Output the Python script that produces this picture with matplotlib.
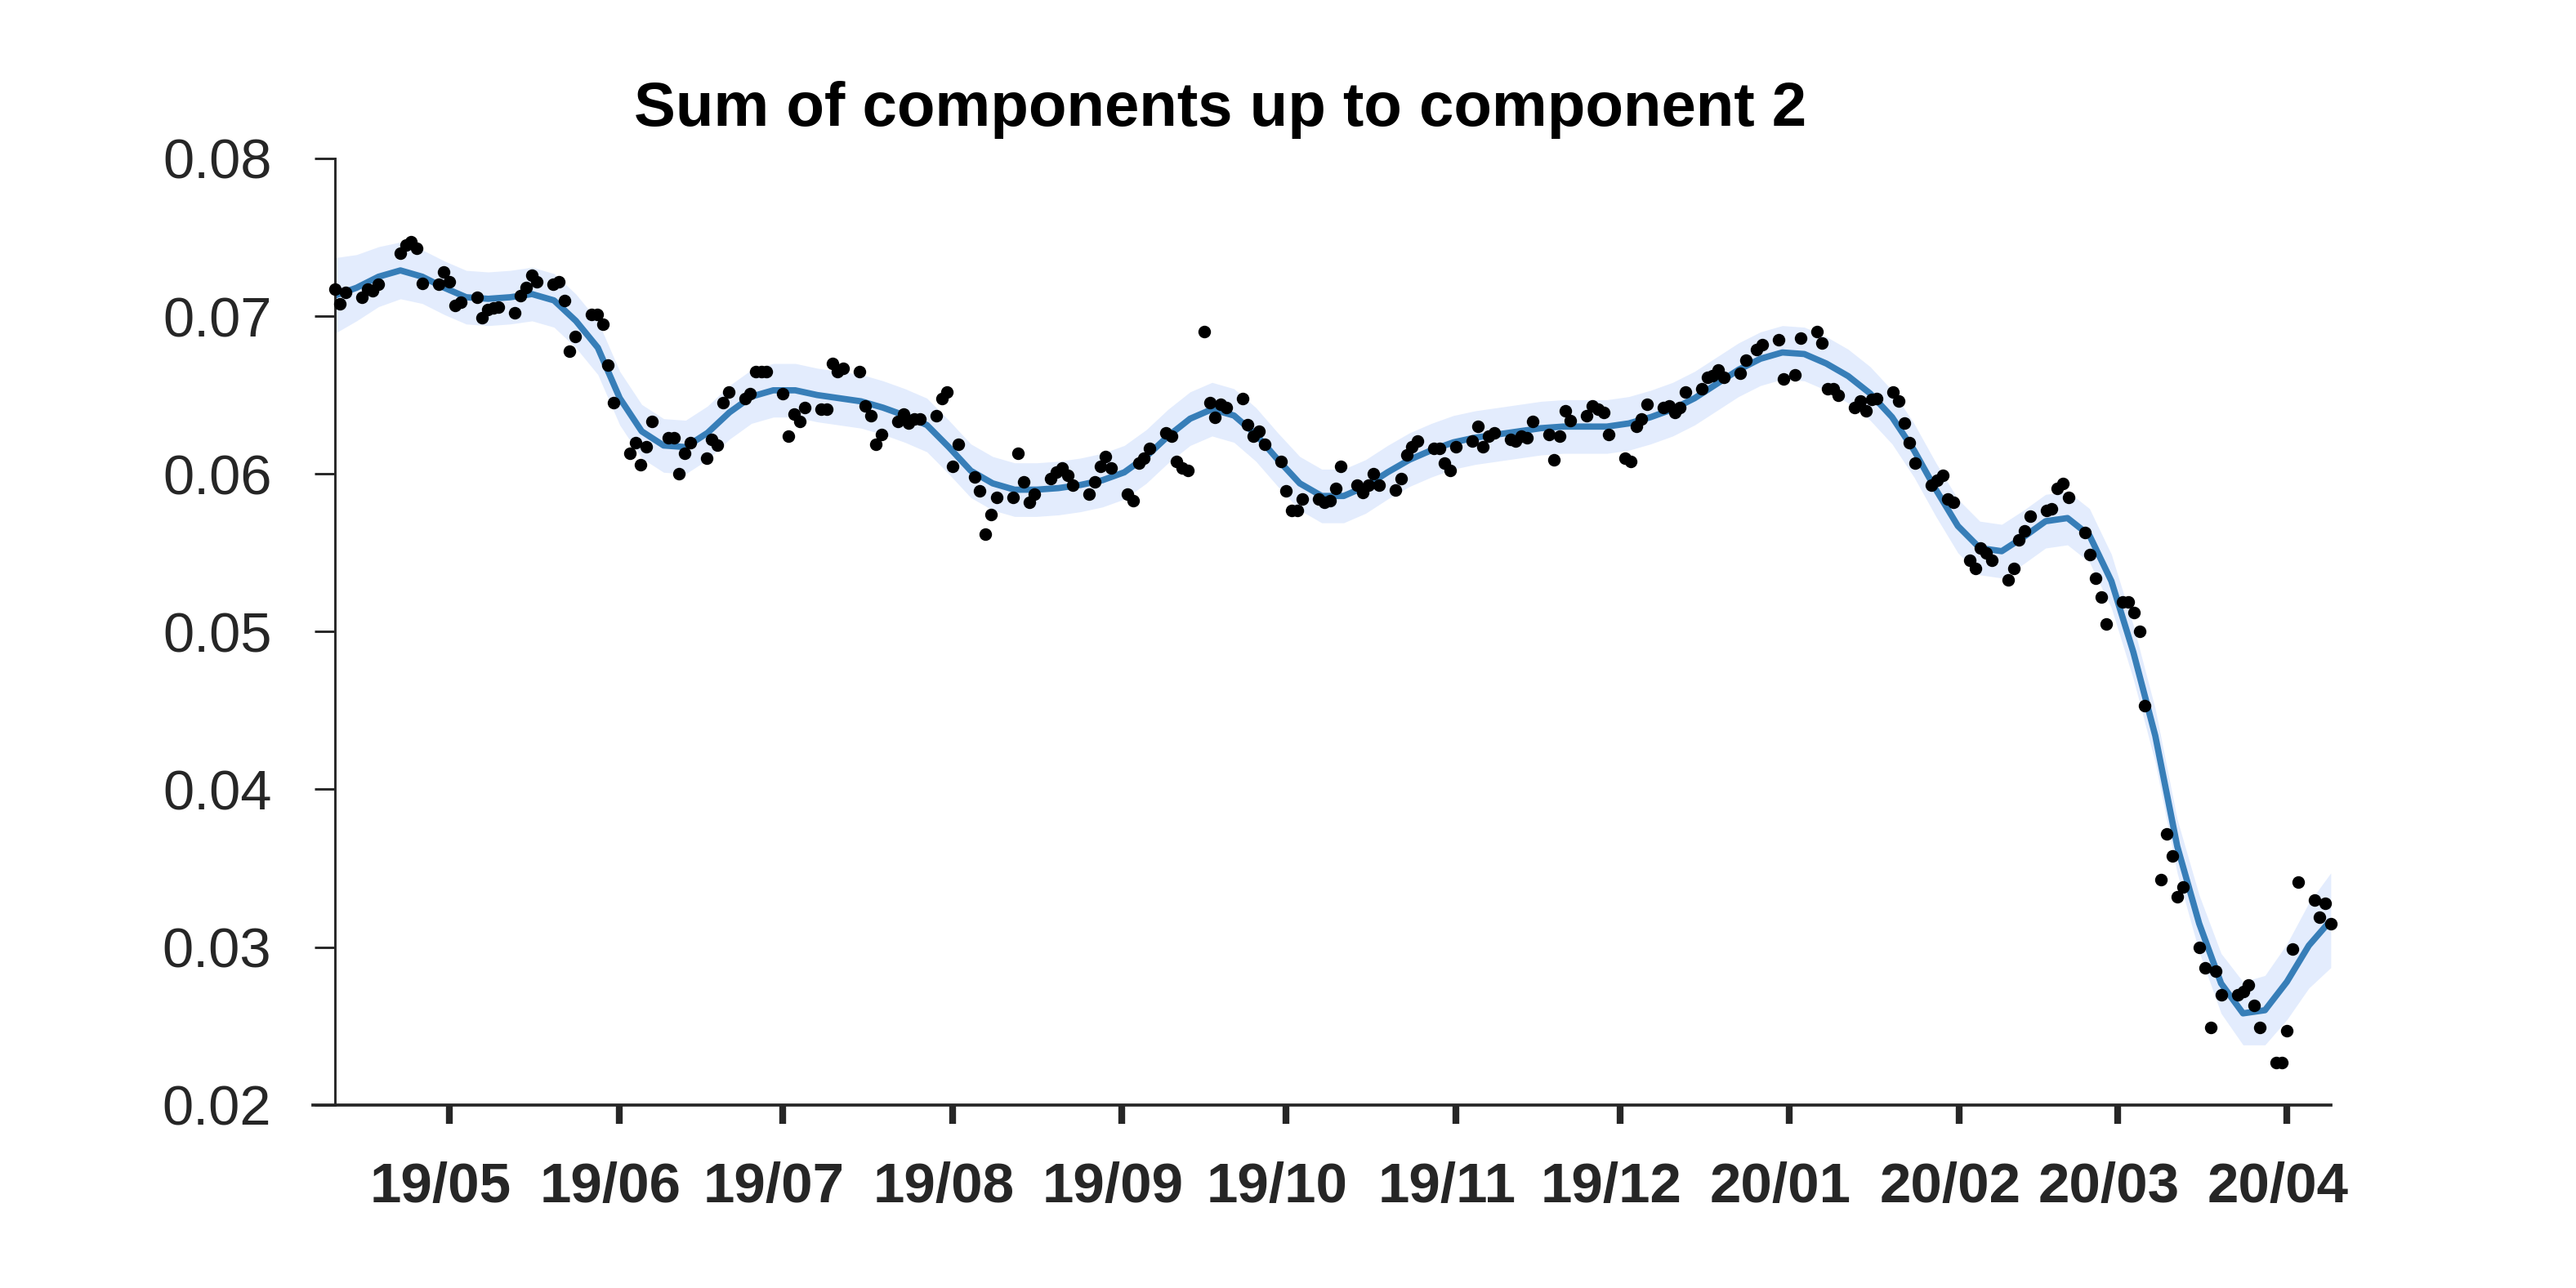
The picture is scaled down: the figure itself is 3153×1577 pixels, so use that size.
import numpy as np
import pandas as pd
import matplotlib
matplotlib.use("Agg")
import matplotlib.pyplot as plt
import matplotlib.dates as mdates
import matplotlib.transforms as mtransforms

plt.rcParams['font.family'] = ['Liberation Sans', 'DejaVu Sans']

# ---------------- data ----------------
title = "Sum of components up to component 2"
first_day = "2019-04-10"
last_day = "2020-04-09"
market_holidays = ["2019-04-19", "2019-12-25", "2020-01-01"]

tick_months = ["2019-05-01", "2019-06-01", "2019-07-01", "2019-08-01", "2019-09-01",
               "2019-10-01", "2019-11-01", "2019-12-01", "2020-01-01", "2020-02-01",
               "2020-03-01", "2020-04-01"]
tick_labels = ["19/05", "19/06", "19/07", "19/08", "19/09", "19/10",
               "19/11", "19/12", "20/01", "20/02", "20/03", "20/04"]
y_ticks = [0.02, 0.03, 0.04, 0.05, 0.06, 0.07, 0.08]
y_tick_labels = ["0.02", "0.03", "0.04", "0.05", "0.06", "0.07", "0.08"]

# daily observations (business days)
observed = [
    0.0717, 0.0708, 0.0715,                          # Apr 10-12
    0.0712, 0.0717, 0.0716, 0.0720,                  # Apr 15-18
    0.0740, 0.0745, 0.0747, 0.0743, 0.0721,          # Apr 22-26
    0.0720, 0.0728, 0.0722, 0.0707, 0.0709,          # Apr 29-May 3
    0.0712, 0.0699, 0.0704, 0.0705, 0.0706,          # May 6-10
    0.0702, 0.0713, 0.0718, 0.0726, 0.0722,          # May 13-17
    0.0720, 0.0722, 0.0710, 0.0678, 0.0687,          # May 20-24
    0.0701, 0.0701, 0.0695, 0.0669, 0.0645,          # May 27-31
    0.0613, 0.0620, 0.0606, 0.0617, 0.0633,          # Jun 3-7
    0.0623, 0.0623, 0.0600, 0.0613, 0.0620,          # Jun 10-14
    0.0610, 0.0622, 0.0618, 0.0645, 0.0652,          # Jun 17-21
    0.0648, 0.0651, 0.0665, 0.0665, 0.0665,          # Jun 24-28
    0.0651, 0.0624, 0.0638, 0.0633, 0.0642,          # Jul 1-5
    0.0641, 0.0641, 0.0670, 0.0665, 0.0667,          # Jul 8-12
    0.0665, 0.0643, 0.0637, 0.0619, 0.0625,          # Jul 15-19
    0.0633, 0.0638, 0.0632, 0.0635, 0.0635,          # Jul 22-26
    0.0637, 0.0648, 0.0652, 0.0605, 0.0619,          # Jul 29-Aug 2
    0.0598, 0.0589, 0.0562, 0.0574, 0.0585,          # Aug 5-9
    0.0585, 0.0613, 0.0595, 0.0582, 0.0587,          # Aug 12-16
    0.0597, 0.0601, 0.0604, 0.0599, 0.0593,          # Aug 19-23
    0.0587, 0.0595, 0.0605, 0.0611, 0.0604,          # Aug 26-30
    0.0587, 0.0583, 0.0607, 0.0610, 0.0616,          # Sep 2-6
    0.0626, 0.0624, 0.0608, 0.0604, 0.0602,          # Sep 9-13
    0.0690, 0.0645, 0.0636, 0.0644, 0.0642,          # Sep 16-20
    0.0648, 0.0631, 0.0624, 0.0627, 0.0619,          # Sep 23-27
    0.0608, 0.0589, 0.0577, 0.0577, 0.0584,          # Sep 30-Oct 4
    0.0584, 0.0582, 0.0583, 0.0591, 0.0605,          # Oct 7-11
    0.0593, 0.0588, 0.0593, 0.0600, 0.0593,          # Oct 14-18
    0.0590, 0.0597, 0.0612, 0.0617, 0.0621,          # Oct 21-25
    0.0616, 0.0616, 0.0607, 0.0602, 0.0617,          # Oct 28-Nov 1
    0.0621, 0.0630, 0.0617, 0.0624, 0.0626,          # Nov 4-8
    0.0622, 0.0621, 0.0624, 0.0623, 0.0633,          # Nov 11-15
    0.0625, 0.0609, 0.0624, 0.0640, 0.0634,          # Nov 18-22
    0.0637, 0.0643, 0.0641, 0.0639, 0.0625,          # Nov 25-29
    0.0610, 0.0608, 0.0630, 0.0635, 0.0644,          # Dec 2-6
    0.0642, 0.0643, 0.0639, 0.0642, 0.0652,          # Dec 9-13
    0.0654, 0.0661, 0.0662, 0.0666, 0.0661,          # Dec 16-20
    0.0664, 0.0672, 0.0679, 0.0682,                  # Dec 23-27
    0.0685, 0.0660, 0.0663, 0.0686,                  # Dec 30-Jan 3
    0.0690, 0.0683, 0.0654, 0.0654, 0.0650,          # Jan 6-10
    0.0642, 0.0646, 0.0640, 0.0647, 0.0648,          # Jan 13-17
    0.0652, 0.0646, 0.0632, 0.0620, 0.0607,          # Jan 20-24
    0.0593, 0.0596, 0.0599, 0.0584, 0.0582,          # Jan 27-31
    0.0545, 0.0540, 0.0553, 0.0550, 0.0545,          # Feb 3-7
    0.0533, 0.0540, 0.0558, 0.0564, 0.0573,          # Feb 10-14
    0.0577, 0.0578, 0.0591, 0.0594, 0.0585,          # Feb 17-21
    0.0563, 0.0549, 0.0534, 0.0522, 0.0505,          # Feb 24-28
    0.0519, 0.0519, 0.0512, 0.0500, 0.0453,          # Mar 2-6
    0.0343, 0.0372, 0.0358, 0.0332, 0.0338,          # Mar 9-13
    0.0300, 0.0287, 0.0249, 0.0285, 0.0270,          # Mar 16-20
    0.0270, 0.0272, 0.0276, 0.0263, 0.0249,          # Mar 23-27
    0.0227, 0.0227, 0.0247, 0.0299, 0.0341,          # Mar 30-Apr 3
    0.0330, 0.0319, 0.0328, 0.0315,                  # Apr 6-9
]

# fitted mean (sampled evenly from first_day to last_day)
fit_mean = [
    0.0713, 0.0718, 0.0725, 0.0729, 0.0725, 0.0718, 0.0712, 0.0711, 0.0712, 0.0714,
    0.0710, 0.0697, 0.0680, 0.0648, 0.0627, 0.0618, 0.0617, 0.0626, 0.0639, 0.0649,
    0.0653, 0.0653, 0.0650, 0.0648, 0.0646, 0.0642, 0.0637, 0.0631, 0.0617, 0.0602,
    0.0594, 0.0590, 0.0590, 0.0591, 0.0593, 0.0596, 0.0601, 0.0611, 0.0624, 0.0635,
    0.0641, 0.0637, 0.0625, 0.0609, 0.0594, 0.0586, 0.0586, 0.0592, 0.0601, 0.0609,
    0.0615, 0.0620, 0.0623, 0.0625, 0.0627, 0.0629, 0.0630, 0.0630, 0.0630, 0.0632,
    0.0636, 0.0641, 0.0648, 0.0657, 0.0666, 0.0673, 0.0677, 0.0676, 0.0670, 0.0662,
    0.0651, 0.0636, 0.0615, 0.0590, 0.0567, 0.0553, 0.0551, 0.0560, 0.0570, 0.0572,
    0.0561, 0.0532, 0.0487, 0.0434, 0.0364, 0.0315, 0.0277, 0.0258, 0.0260, 0.0278,
    0.0301, 0.0317,
]

# half-width of the uncertainty band, same sampling as fit_mean
fit_half_width = [
    0.0024, 0.0021, 0.0019, 0.0018, 0.0017, 0.0017, 0.0017, 0.0017, 0.0017, 0.0017,
    0.0017, 0.0017, 0.0017, 0.0017, 0.0017, 0.0017, 0.0017, 0.0017, 0.0017, 0.0017,
    0.0017, 0.0017, 0.0017, 0.0017, 0.0017, 0.0017, 0.0017, 0.0017, 0.0017, 0.0017,
    0.0017, 0.0017, 0.0017, 0.0017, 0.0017, 0.0017, 0.0017, 0.0017, 0.0017, 0.0017,
    0.0017, 0.0017, 0.0017, 0.0017, 0.0017, 0.0017, 0.0017, 0.0017, 0.0017, 0.0017,
    0.0017, 0.0017, 0.0017, 0.0017, 0.0017, 0.0017, 0.0017, 0.0017, 0.0017, 0.0017,
    0.0017, 0.0017, 0.0017, 0.0017, 0.0017, 0.0017, 0.0017, 0.0017, 0.0017, 0.0017,
    0.0017, 0.0017, 0.0017, 0.0017, 0.0017, 0.0017, 0.0017, 0.0017, 0.0017, 0.0017,
    0.0017, 0.0017, 0.0017, 0.0017, 0.0017, 0.0018, 0.0019, 0.0020, 0.0022, 0.0024,
    0.0027, 0.0030,
]

# ---------------- build ----------------
obs_dates = pd.bdate_range(first_day, last_day, freq="C", holidays=market_holidays)
n = min(len(obs_dates), len(observed))
obs_dates = obs_dates[:n]
obs_vals = np.array(observed[:n])

fit_dates = pd.date_range(first_day, last_day, periods=len(fit_mean))
mean = np.array(fit_mean)
half = np.array(fit_half_width)

fig = plt.figure(figsize=(3153 / 300, 1577 / 300), dpi=300)
ax = fig.add_axes([0.1214, 0.1422, 0.7834, 0.7348])

ax.fill_between(fit_dates, mean - half, mean + half, color="#e3ecfd", lw=0, zorder=1)
ax.plot(fit_dates, mean, color="#377eb8", lw=1.85, zorder=2,
        solid_capstyle="butt", solid_joinstyle="round")
ax.plot(obs_dates, obs_vals, "o", color="black", ms=3.7, mew=0, zorder=3, clip_on=False)

start = pd.Timestamp(first_day)
end = pd.Timestamp(last_day)
ax.set_xlim(start - pd.Timedelta(days=4), end)
ax.set_ylim(0.02, 0.08)

for s in ["top", "right"]:
    ax.spines[s].set_visible(False)
ax.spines["left"].set_position(("data", mdates.date2num(start)))
ax.spines["left"].set_linewidth(0.7)
ax.spines["bottom"].set_linewidth(0.9)
ax.spines["left"].set_color("#262626")
ax.spines["bottom"].set_color("#262626")

ax.set_yticks(y_ticks)
ax.set_yticklabels(y_tick_labels)
ax.tick_params(axis="y", direction="out", length=6, width=0.7, color="#262626",
               labelcolor="#262626", labelsize=16.5, pad=12.5)

ax.set_xticks(pd.to_datetime(tick_months))
ax.set_xticklabels(tick_labels, fontweight="bold")
ax.tick_params(axis="x", direction="out", length=5.6, width=2.0, color="#262626",
               labelcolor="#262626", labelsize=16.6, pad=11)
offset = mtransforms.ScaledTranslation(-11 / 300, 0, fig.dpi_scale_trans)
for lab in ax.get_xticklabels():
    lab.set_transform(lab.get_transform() + offset)

fig.text(0.4738, 0.9023, title, ha="center", va="baseline", fontsize=18.3,
         fontweight="bold", color="black")

fig.savefig("out.png", dpi=300)
